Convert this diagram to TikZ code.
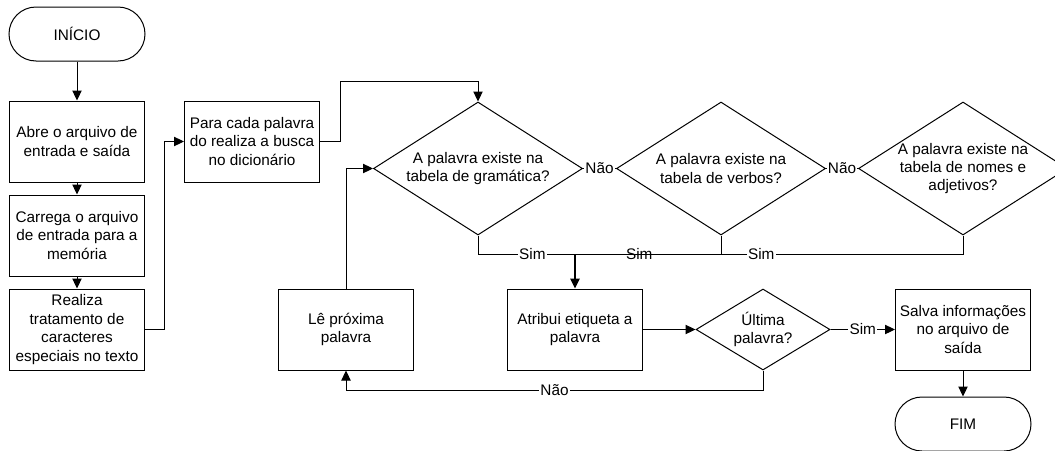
\documentclass[tikz,border=0pt]{standalone}
\usepackage{fontspec}
\setmainfont{Liberation Sans}
\usetikzlibrary{arrows.meta,shapes.geometric}
\begin{document}
\begin{tikzpicture}[x=0.75pt,y=-0.75pt,
  every node/.style={font=\fontsize{11.5}{13.8}\selectfont},
  proc/.style={draw, line width=0.75pt, minimum width=101.25pt, minimum height=60.75pt, align=center, inner sep=2pt},
  term/.style={draw, line width=0.75pt, rounded corners=20.25pt, minimum width=102pt, minimum height=40.5pt},
  dec/.style={draw, line width=0.75pt, diamond, aspect=1.57, inner sep=-5pt, minimum width=156.75pt, minimum height=99.75pt, align=center},
  flow/.style={line width=0.75pt, -{Triangle[length=7.5pt,width=7pt]}},
  link/.style={line width=0.75pt},
  lbl/.style={fill=white, inner xsep=1pt, inner ysep=0.5pt}]
\useasboundingbox (0,0) rectangle (1055,450);

% start and preprocessing column
\node[term] (start) at (77,34) {INÍCIO};
\node[proc] (open)  at (77,141.5) {Abre o arquivo de\\entrada e saída};
\node[proc] (load)  at (77,235.5) {Carrega o arquivo\\de entrada para a\\memória};
\node[proc] (clean) at (77,329.5) {Realiza\\tratamento de\\caracteres\\especiais no texto};
\node[proc] (each)  at (252,141.5) {Para cada palavra\\do realiza a busca\\no dicionário};

% dictionary lookups
\node[dec] (gram) at (478,168.5) {A palavra existe na\\tabela de gramática?};
\node[dec] (verb) at (721,168.5) {A palavra existe na\\tabela de verbos?};
\node[dec] (noun) at (963,168.5) {A palavra existe na\\tabela de nomes e\\adjetivos?};

% tagging loop
\node[proc] (next) at (346,329.5) {Lê próxima\\palavra};
\node[proc] (tag)  at (575,329.5) {Atribui etiqueta a\\palavra};
\node[dec, minimum width=100.5pt, minimum height=60.75pt, aspect=1.65] (last) at (763,329.5) {Última\\palavra?};
\node[proc] (save) at (963,329.5) {Salva informações\\no arquivo de\\saída};
\node[term] (end)  at (963,424) {FIM};
\coordinate (join) at (575,254.5);

% connectors
\draw[flow] (start) -- (open);
\draw[flow] (open) -- (load);
\draw[flow] (load) -- (clean);
\draw[flow] (clean.east) -- ++(19,0) |- (each.west);
\draw[flow] (each.east) -- ++(20,0) -- ++(0,-60.5) -| (gram.north);
\draw[link] (gram.east) -- node[lbl]{Não} (verb.west);
\draw[link] (verb.east) -- node[lbl]{Não} (noun.west);
\draw[link] (gram.south) |- node[lbl,pos=0.78]{Sim} (join);
\draw[link] (verb.south) |- node[lbl,pos=0.78]{Sim} (join);
\draw[link] (noun.south) |- node[lbl,pos=0.76]{Sim} (join);
\draw[flow, line width=1.5pt] (join) -- (tag.north);
\draw[flow] (tag) -- (last);
\draw[flow] (last) -- node[lbl]{Sim} (save);
\draw[flow] (save) -- (end);
\draw[flow] (last.south) -- ++(0,20) -| node[lbl,pos=0.25]{Não} (next.south);
\draw[flow] (next.north) |- (gram.west);
\end{tikzpicture}
\end{document}
